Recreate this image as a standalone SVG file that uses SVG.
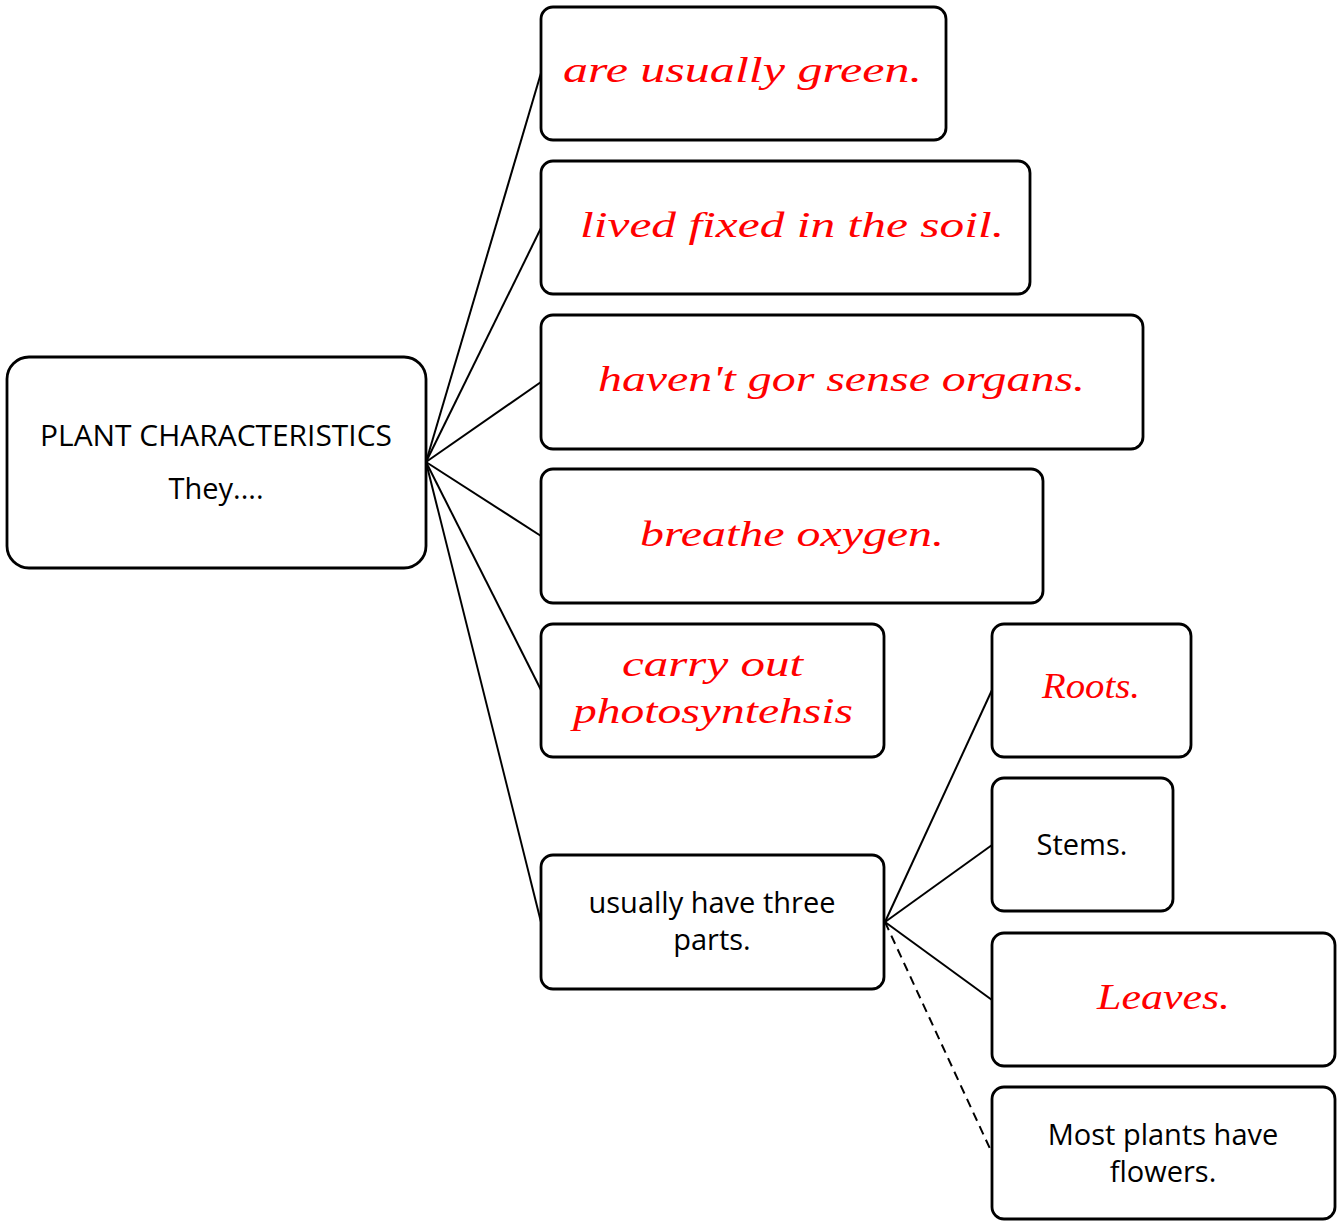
<svg xmlns="http://www.w3.org/2000/svg" width="1340" height="1221" viewBox="0 0 1340 1221">
<style>
.box{fill:#fff;stroke:#000;stroke-width:2.8}
.t{font-family:"Open Sans","Liberation Sans",sans-serif;font-size:29px;fill:#000;text-anchor:middle}
.r{font-family:"Liberation Serif",serif;font-style:italic;font-size:36px;fill:#ff0000;text-anchor:start}
.c{stroke:#000;stroke-width:2;fill:none}
.d{stroke:#000;stroke-width:2;fill:none;stroke-dasharray:9 6}
</style>
<rect width="1340" height="1221" fill="#fff"/>
<g id="connectors">
<line class="c" x1="426" y1="462" x2="541" y2="73"/>
<line class="c" x1="426" y1="462" x2="541" y2="228"/>
<line class="c" x1="426" y1="462" x2="541" y2="382"/>
<line class="c" x1="426" y1="462" x2="541" y2="536"/>
<line class="c" x1="426" y1="462" x2="541" y2="690"/>
<line class="c" x1="426" y1="462" x2="541" y2="922"/>
<line class="c" x1="885" y1="922" x2="992" y2="690"/>
<line class="c" x1="885" y1="922" x2="992" y2="845"/>
<line class="c" x1="885" y1="922" x2="992" y2="1000"/>
<line class="d" x1="885" y1="922" x2="992" y2="1153"/>
</g>
<g id="root">
<rect class="box" x="7" y="357" width="419" height="211" rx="22"/>
<text class="t" x="216" y="446" font-size="28" textLength="352" lengthAdjust="spacingAndGlyphs">PLANT CHARACTERISTICS</text>
<text class="t" x="216" y="499">They....</text>
</g>
<g id="n1">
<rect class="box" x="541" y="7" width="405" height="133" rx="12"/>
<text class="r" x="563" y="82" textLength="359" lengthAdjust="spacingAndGlyphs">are usually green.</text>
</g>
<g id="n2">
<rect class="box" x="541" y="161" width="489" height="133" rx="12"/>
<text class="r" x="580" y="237" textLength="424" lengthAdjust="spacingAndGlyphs">lived fixed in the soil.</text>
</g>
<g id="n3">
<rect class="box" x="541" y="315" width="602" height="134" rx="12"/>
<text class="r" x="598" y="391" textLength="487" lengthAdjust="spacingAndGlyphs">haven't gor sense organs.</text>
</g>
<g id="n4">
<rect class="box" x="541" y="469" width="502" height="134" rx="12"/>
<text class="r" x="640" y="546" textLength="304" lengthAdjust="spacingAndGlyphs">breathe oxygen.</text>
</g>
<g id="n5">
<rect class="box" x="541" y="624" width="343" height="133" rx="12"/>
<text class="r" x="622" y="676" textLength="181" lengthAdjust="spacingAndGlyphs">carry out</text>
<text class="r" x="573" y="723" textLength="280" lengthAdjust="spacingAndGlyphs">photosyntehsis</text>
</g>
<g id="n6">
<rect class="box" x="541" y="855" width="343" height="134" rx="12"/>
<text class="t" x="712" y="913">usually have three</text>
<text class="t" x="712" y="950">parts.</text>
</g>
<g id="roots">
<rect class="box" x="992" y="624" width="199" height="133" rx="12"/>
<text class="r" x="1042" y="698" textLength="98" lengthAdjust="spacingAndGlyphs">Roots.</text>
</g>
<g id="stems">
<rect class="box" x="992" y="778" width="181" height="133" rx="12"/>
<text class="t" x="1082" y="855">Stems.</text>
</g>
<g id="leaves">
<rect class="box" x="992" y="933" width="343" height="133" rx="12"/>
<text class="r" x="1097" y="1009" textLength="133" lengthAdjust="spacingAndGlyphs">Leaves.</text>
</g>
<g id="flowers">
<rect class="box" x="992" y="1087" width="343" height="132" rx="12"/>
<text class="t" x="1163" y="1145">Most plants have</text>
<text class="t" x="1163" y="1182">flowers.</text>
</g>
</svg>
